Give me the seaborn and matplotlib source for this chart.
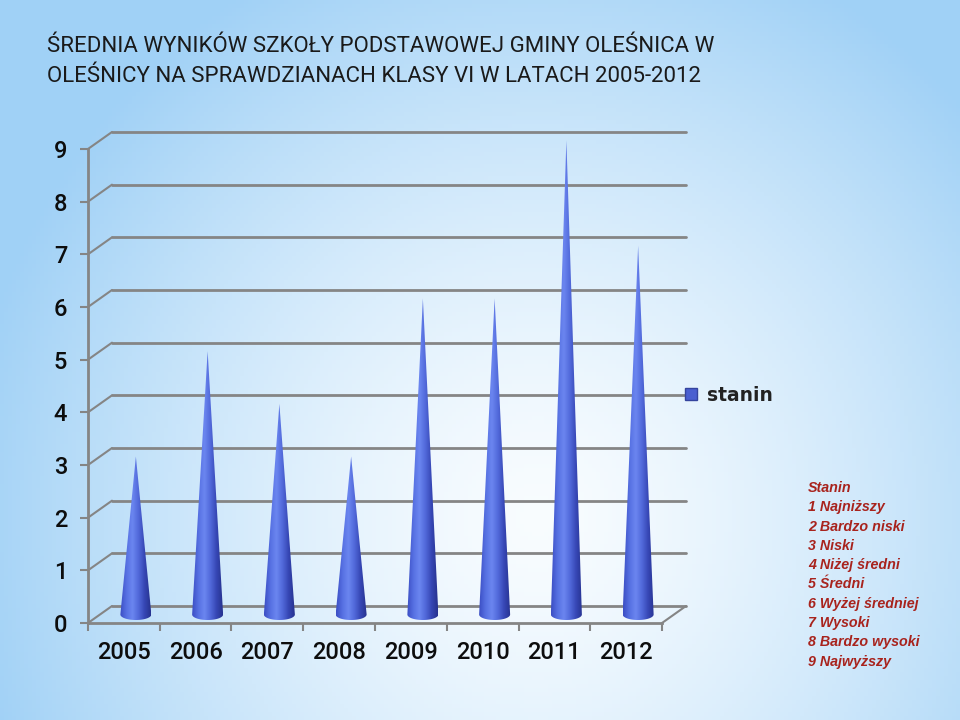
import numpy as np
import matplotlib
matplotlib.use("Agg")
import matplotlib.pyplot as plt
import seaborn as sns
from matplotlib.patches import Polygon, Patch
from matplotlib.colors import LinearSegmentedColormap

# data
years = ["2005", "2006", "2007", "2008", "2009", "2010", "2011", "2012"]
stanin = [3, 5, 4, 3, 6, 6, 9, 7]
y_ticks = list(range(10))
legend_label = "stanin"
title_lines = ["ŚREDNIA WYNIKÓW SZKOŁY PODSTAWOWEJ GMINY OLEŚNICA W",
               "OLEŚNICY NA SPRAWDZIANACH KLASY VI W LATACH 2005-2012"]
stanin_scale = ["Stanin", "1 Najniższy", "2 Bardzo niski", "3 Niski",
                "4 Niżej średni", "5 Średni", "6 Wyżej średniej", "7 Wysoki",
                "8 Bardzo wysoki", "9 Najwyższy"]

sns.set_theme(style="white")
plt.rcParams['font.family'] = ['Roboto', 'DejaVu Sans']

W, H = 960, 720
fig = plt.figure(figsize=(9.6, 7.2), dpi=100)

# slide background: light blue edges fading to white
bg = fig.add_axes([0, 0, 1, 1], zorder=-10)
yy, xx = np.mgrid[0:1:180j, 0:1:240j]
r = np.sqrt(((xx - 0.56) / 0.6) ** 2 + ((yy - 0.72) / 0.85) ** 2)
t = np.clip(r, 0, 1) ** 1.4
edge = np.array([0.63, 0.82, 0.965])
center = np.array([0.975, 0.99, 1.0])
img = center * (1 - t[..., None]) + edge * t[..., None]
bg.imshow(img, extent=[0, 1, 0, 1], origin='upper', aspect='auto')
bg.set_axis_off()

# plot area (front plane), pseudo-3D depth offsets
px, py = 71.75, 52.67
x0, y0 = 88, 623
ax = fig.add_axes([x0 / W, (H - y0) / H, 600 / W, 492 / H])
ax.patch.set_alpha(0)
sns.barplot(x=years, y=stanin, color="#4a5fd0", width=0.45, ax=ax)
n = len(years)
dx, dy = 24 / px, 17 / py

# turn each bar into a shaded cone
cmap = LinearSegmentedColormap.from_list(
    "cone", ["#3b4ec4", "#5670e2", "#6b86f0", "#5169da", "#3646b4", "#27338f"])
grad = np.linspace(0, 1, 64)[None, :]
hw, eh = 15.5 / px, 5.5 / py
theta = np.linspace(0, np.pi, 40)
for bar in list(ax.patches):
    xc = bar.get_x() + bar.get_width() / 2 + dx / 2
    top = bar.get_height() + dy / 2
    yb = dy / 2
    bar.remove()
    ell = np.column_stack([xc + hw * np.cos(theta), yb - eh * np.sin(theta)])
    verts = np.vstack([[xc, top], ell])
    poly = Polygon(verts, closed=True, facecolor='none', edgecolor='none')
    ax.add_patch(poly)
    im = ax.imshow(grad, cmap=cmap, extent=[xc - hw, xc + hw, yb - eh, top],
                   aspect='auto', zorder=3, interpolation='bicubic')
    im.set_clip_path(poly)

ax.set_xlim(-0.5, -0.5 + 600 / px)
ax.set_ylim(0, 492 / py)

# back wall gridlines and depth connectors
grid_c = "#858585"
for k in y_ticks:
    ax.plot([-0.5 + dx, n - 0.5 + dx], [k + dy, k + dy], color=grid_c, lw=2, zorder=1, clip_on=False)
    ax.plot([-0.5, -0.5 + dx], [k, k + dy], color=grid_c, lw=1.5, zorder=1, clip_on=False)
ax.plot([n - 0.5, n - 0.5 + dx], [0, dy], color=grid_c, lw=1.5, zorder=1, clip_on=False)

sns.despine(ax=ax)
for s in ['left', 'bottom']:
    ax.spines[s].set_color(grid_c)
    ax.spines[s].set_linewidth(2)
ax.spines['left'].set_bounds(0, 9)
ax.spines['bottom'].set_bounds(-0.5, n - 0.5)

ax.set_yticks(y_ticks)
ax.set_xticks(np.arange(n + 1) - 0.5, minor=True)
ax.tick_params(axis='y', left=True, direction='out', length=6, width=1.5,
               color=grid_c, pad=9, labelsize=17, labelcolor='#0d0d0d')
ax.tick_params(axis='x', which='major', bottom=True, length=0, pad=13,
               labelsize=17, labelcolor='#0d0d0d')
ax.tick_params(axis='x', which='minor', bottom=True, direction='out', length=6,
               width=1.5, color=grid_c)
ax.set_xlabel('')
ax.set_ylabel('')
for lab in ax.get_xticklabels() + ax.get_yticklabels():
    lab.set_fontweight('medium')

ax.legend(handles=[Patch(facecolor="#4a5fd0", edgecolor="#34449e")], labels=[legend_label],
          loc="center left", bbox_to_anchor=(685 / W, 1 - 395 / H),
          bbox_transform=fig.transFigure, frameon=False, handlelength=0.65,
          handleheight=0.65, handletextpad=0.5, borderpad=0, borderaxespad=0,
          labelcolor='#222222',
          prop={'family': ['DejaVu Sans'], 'weight': 'bold', 'size': 13.5})

# title
for i, line in enumerate(title_lines):
    fig.text(47 / W, 1 - (46 + 30 * i) / H, line, fontsize=16, color='#1a1a1a',
             ha='left', va='center')

# stanin description
for i, line in enumerate(stanin_scale):
    fig.text(808 / W, 1 - (488 + 19.3 * i) / H, line, color='#a8231d', fontsize=10.3,
             fontstyle='italic', fontweight='bold', family=['Liberation Sans', 'DejaVu Sans'],
             ha='left', va='center')

fig.savefig('out.png', dpi=100)
